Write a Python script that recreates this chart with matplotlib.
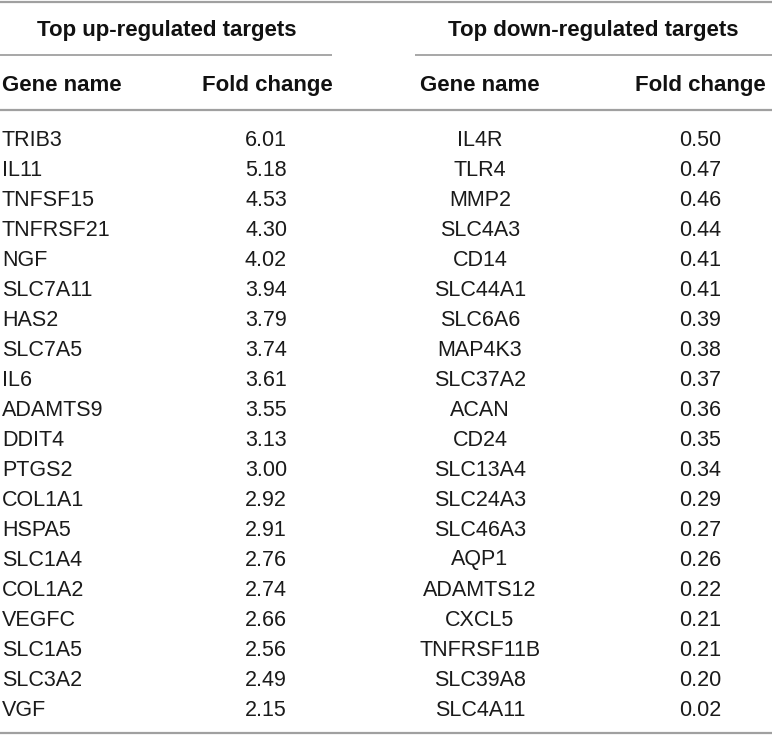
import matplotlib
matplotlib.use("Agg")
from matplotlib import pyplot as plt

# dane tabeli
up_genes = ["TRIB3", "IL11", "TNFSF15", "TNFRSF21", "NGF", "SLC7A11", "HAS2", "SLC7A5", "IL6", "ADAMTS9",
            "DDIT4", "PTGS2", "COL1A1", "HSPA5", "SLC1A4", "COL1A2", "VEGFC", "SLC1A5", "SLC3A2", "VGF"]
up_fold = ["6.01", "5.18", "4.53", "4.30", "4.02", "3.94", "3.79", "3.74", "3.61", "3.55",
           "3.13", "3.00", "2.92", "2.91", "2.76", "2.74", "2.66", "2.56", "2.49", "2.15"]
down_genes = ["IL4R", "TLR4", "MMP2", "SLC4A3", "CD14", "SLC44A1", "SLC6A6", "MAP4K3", "SLC37A2", "ACAN",
              "CD24", "SLC13A4", "SLC24A3", "SLC46A3", "AQP1", "ADAMTS12", "CXCL5", "TNFRSF11B", "SLC39A8", "SLC4A11"]
down_fold = ["0.50", "0.47", "0.46", "0.44", "0.41", "0.41", "0.39", "0.38", "0.37", "0.36",
             "0.35", "0.34", "0.29", "0.27", "0.26", "0.22", "0.21", "0.21", "0.20", "0.02"]
group_titles = ["Top up-regulated targets", "Top down-regulated targets"]
col_headers = ["Gene name", "Fold change", "Gene name", "Fold change"]

plt.rcParams['font.family'] = ['Liberation Sans', 'DejaVu Sans']

W, H = 772, 736
fig = plt.figure(figsize=(W / 100, H / 100), dpi=100)
ax = fig.add_axes([0, 0, 1, 1])
ax.set_xlim(0, W)
ax.set_ylim(H, 0)
ax.axis("off")

line_col = "#a0a0a0"
fs = 15.5
fs_b = 16

# linie poziome
ax.plot([0, W], [1.5, 1.5], color=line_col, lw=1.6, solid_capstyle="butt")
ax.plot([0, 332], [55, 55], color=line_col, lw=1.3, solid_capstyle="butt")
ax.plot([415, W], [55, 55], color=line_col, lw=1.3, solid_capstyle="butt")
ax.plot([0, W], [110, 110], color=line_col, lw=1.6, solid_capstyle="butt")
ax.plot([0, W], [733, 733], color=line_col, lw=1.6, solid_capstyle="butt")

# naglowki
ax.text(167, 36, group_titles[0], ha="center", va="baseline", fontsize=fs_b, fontweight="bold", color="#111111")
ax.text(593, 36, group_titles[1], ha="center", va="baseline", fontsize=fs_b, fontweight="bold", color="#111111")
ax.text(2, 91, col_headers[0], ha="left", va="baseline", fontsize=fs_b, fontweight="bold", color="#111111")
ax.text(267, 91, col_headers[1], ha="center", va="baseline", fontsize=fs_b, fontweight="bold", color="#111111")
ax.text(480, 91, col_headers[2], ha="center", va="baseline", fontsize=fs_b, fontweight="bold", color="#111111")
ax.text(700, 91, col_headers[3], ha="center", va="baseline", fontsize=fs_b, fontweight="bold", color="#111111")

# wiersze
for i in range(len(up_genes)):
    y = 145.5 + i * 30
    ax.text(2, y, up_genes[i], ha="left", va="baseline", fontsize=fs, color="#1a1a1a")
    ax.text(266, y, up_fold[i], ha="center", va="baseline", fontsize=fs, color="#1a1a1a")
    ax.text(480, y, down_genes[i], ha="center", va="baseline", fontsize=fs, color="#1a1a1a")
    ax.text(700, y, down_fold[i], ha="center", va="baseline", fontsize=fs, color="#1a1a1a")

plt.savefig("out.png", dpi=100)
plt.close()
